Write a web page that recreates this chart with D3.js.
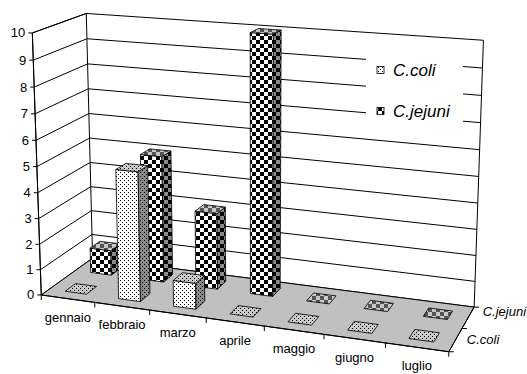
<!DOCTYPE html>
<html>
<head>
<meta charset="utf-8">
<script src="https://cdn.jsdelivr.net/npm/d3@7"></script>
<style>
  html, body { margin: 0; padding: 0; background: #fff; }
  svg { display: block; font-family: "Liberation Sans", Arial, sans-serif; }
</style>
</head>
<body>
<svg id="chart" width="527" height="374"></svg>
<script>
// ---- data ----
const months = ["gennaio", "febbraio", "marzo", "aprile", "maggio", "giugno", "luglio"];
const seriesNames = ["C.coli", "C.jejuni"];
const coliValues = [0, 5, 1, 0, 0, 0, 0];
const jejuniValues = [1, 5, 3, 10, 0, 0, 0];
const valueTicks = [0, 1, 2, 3, 4, 5, 6, 7, 8, 9, 10];

// ---- camera: box corners of the unit plot cube (x = categories, y = value, z = depth) on screen ----
const cameraAnchors = [
  { p: [0, 0, 0], u: 41.7, v: 294.0, w: 4 },
  { p: [0, 1, 0], u: 32.0, v: 33.0, w: 4 },
  { p: [0, 1, 1], u: 86.7, v: 12.7, w: 4 },
  { p: [1, 1, 1], u: 483.3, v: 40.7, w: 4 },
  { p: [1, 0, 1], u: 474.0, v: 306.0, w: 4 },
  { p: [1, 0, 0], u: 449.3, v: 352.7, w: 4 },
  { p: [0, 0, 1], u: 92.0, v: 261.0, w: 2 },
  { p: [1 / 7, 0, 0], u: 95.0, w: 1 },
  { p: [2 / 7, 0, 0], u: 150.0, w: 1 },
  { p: [3 / 7, 0, 0], u: 206.0, w: 1 },
  { p: [4 / 7, 0, 0], u: 262.7, w: 1 },
  { p: [5 / 7, 0, 0], u: 322.7, w: 1 },
  { p: [6 / 7, 0, 0], u: 385.0, w: 1 },
  { p: [0, 0.1, 0], v: 269, w: 1 },
  { p: [0, 0.2, 0], v: 244, w: 1 },
  { p: [0, 0.3, 0], v: 219, w: 1 },
  { p: [0, 0.4, 0], v: 192, w: 1 },
  { p: [0, 0.5, 0], v: 167, w: 1 },
  { p: [0, 0.6, 0], v: 140, w: 1 },
  { p: [0, 0.7, 0], v: 114, w: 1 },
  { p: [0, 0.8, 0], v: 88, w: 1 },
  { p: [0, 0.9, 0], v: 61, w: 1 },
  { p: [1, 0, 0.5], u: 463.3, v: 327.7, w: 1 }
];

function solveLinear(A, b) {
  const n = b.length;
  const M = A.map((row, i) => row.concat([b[i]]));
  for (let c = 0; c < n; c++) {
    let piv = c;
    for (let r = c + 1; r < n; r++) if (Math.abs(M[r][c]) > Math.abs(M[piv][c])) piv = r;
    [M[c], M[piv]] = [M[piv], M[c]];
    for (let r = 0; r < n; r++) {
      if (r === c) continue;
      const f = M[r][c] / M[c][c];
      for (let k = c; k <= n; k++) M[r][k] -= f * M[c][k];
    }
  }
  return M.map((row, i) => row[n] / row[i]);
}

// least-squares projective camera (DLT with last entry fixed to 1)
function fitCamera(anchors) {
  const S = 100;
  const rows = [], rhs = [], wts = [];
  anchors.forEach(a => {
    const [x, y, z] = a.p;
    if (a.u !== undefined) {
      const u = a.u / S;
      rows.push([x, y, z, 1, 0, 0, 0, 0, -u * x, -u * y, -u * z]); rhs.push(u); wts.push(a.w);
    }
    if (a.v !== undefined) {
      const v = a.v / S;
      rows.push([0, 0, 0, 0, x, y, z, 1, -v * x, -v * y, -v * z]); rhs.push(v); wts.push(a.w);
    }
  });
  const n = 11;
  const AtA = Array.from({ length: n }, () => new Array(n).fill(0));
  const Atb = new Array(n).fill(0);
  rows.forEach((r, i) => {
    const w = wts[i];
    for (let a = 0; a < n; a++) {
      Atb[a] += w * r[a] * rhs[i];
      for (let b = 0; b < n; b++) AtA[a][b] += w * r[a] * r[b];
    }
  });
  const p = solveLinear(AtA, Atb);
  const P = [
    [p[0] * S, p[1] * S, p[2] * S, p[3] * S],
    [p[4] * S, p[5] * S, p[6] * S, p[7] * S],
    [p[8], p[9], p[10], 1]
  ];
  const center = solveLinear(
    [[P[0][0], P[0][1], P[0][2]], [P[1][0], P[1][1], P[1][2]], [P[2][0], P[2][1], P[2][2]]],
    [-P[0][3], -P[1][3], -P[2][3]]
  );
  return { P, center };
}

const cam = fitCamera(cameraAnchors);
function project(x, y, z) {
  const P = cam.P;
  const w = P[2][0] * x + P[2][1] * y + P[2][2] * z + P[2][3];
  return [
    (P[0][0] * x + P[0][1] * y + P[0][2] * z + P[0][3]) / w,
    (P[1][0] * x + P[1][1] * y + P[1][2] * z + P[1][3]) / w
  ];
}

// ---- scales into the unit cube ----
const xCat = d3.scaleBand().domain(months).range([0, 1]);
const xBar = d3.scaleBand().domain(months).range([0, 1]).paddingInner(0.6).paddingOuter(0.3);
const yVal = d3.scaleLinear().domain([0, 10]).range([0, 1]);
const zCat = d3.scaleBand().domain(seriesNames).range([0, 1]);
const zBar = d3.scaleBand().domain(seriesNames).range([0, 1]).paddingInner(0.6).paddingOuter(0.3);
// depth labels sit a little wider apart than the series slots
const zLabel = d3.scaleBand().domain(seriesNames).range([-0.125, 1.125]);

const svg = d3.select("#chart");
const line = d3.line();
const polyPath = pts => line(pts.map(p => project(p[0], p[1], p[2]))) + "Z";

// ---- fill patterns ----
const defs = svg.append("defs");
function dotPattern(id, bg) {
  const p = defs.append("pattern").attr("id", id).attr("patternUnits", "userSpaceOnUse")
    .attr("width", 4).attr("height", 4);
  p.append("rect").attr("width", 4).attr("height", 4).attr("fill", bg);
  p.append("rect").attr("x", 0).attr("y", 0).attr("width", 1).attr("height", 1).attr("fill", "#000");
  p.append("rect").attr("x", 2).attr("y", 2).attr("width", 1).attr("height", 1).attr("fill", "#000");
}
function checkPattern(id, light, dark) {
  const p = defs.append("pattern").attr("id", id).attr("patternUnits", "userSpaceOnUse")
    .attr("width", 8).attr("height", 8);
  p.append("rect").attr("width", 8).attr("height", 8).attr("fill", light);
  p.append("rect").attr("x", 0).attr("y", 0).attr("width", 4).attr("height", 4).attr("fill", dark);
  p.append("rect").attr("x", 4).attr("y", 4).attr("width", 4).attr("height", 4).attr("fill", dark);
}
dotPattern("coli-front", "#ffffff");
dotPattern("coli-side", "#8a8a8a");
dotPattern("coli-top", "#c8c8c8");
checkPattern("jej-front", "#ffffff", "#000000");
checkPattern("jej-side", "#8a8a8a", "#000000");
checkPattern("jej-top", "#c8c8c8", "#555555");

const fills = {
  "C.coli": { front: "url(#coli-front)", side: "url(#coli-side)", top: "url(#coli-top)" },
  "C.jejuni": { front: "url(#jej-front)", side: "url(#jej-side)", top: "url(#jej-top)" }
};

// ---- walls and floor ----
const frame = svg.append("g");
frame.append("path").attr("d", polyPath([[0, 0, 0], [0, 0, 1], [0, 1, 1], [0, 1, 0]])).attr("fill", "#fff");
frame.append("path").attr("d", polyPath([[0, 0, 1], [1, 0, 1], [1, 1, 1], [0, 1, 1]])).attr("fill", "#fff");

const grid = svg.append("g").attr("stroke", "#000").attr("stroke-width", 1).attr("fill", "none");
valueTicks.forEach(t => {
  const yy = yVal(t);
  grid.append("path").attr("d", line([project(0, yy, 0), project(0, yy, 1), project(1, yy, 1)]));
});
svg.append("path").attr("d", polyPath([[0, 0, 0], [1, 0, 0], [1, 0, 1], [0, 0, 1]]))
  .attr("fill", "#c0c0c0").attr("stroke", "#000").attr("stroke-width", 1);

const edges = svg.append("g").attr("stroke", "#000").attr("stroke-width", 1).attr("fill", "none");
[
  [[0, 0, 1], [0, 1, 1]],
  [[1, 0, 1], [1, 1, 1]],
  [[0, 1, 0], [0, 1, 1]],
  [[0, 0, 0], [0, 1, 0]]
].forEach(e => edges.append("path").attr("d", line(e.map(p => project(...p)))));

// ---- bars ----
const bars = [];
seriesNames.forEach((s, si) => {
  const vals = si === 0 ? coliValues : jejuniValues;
  months.forEach((m, mi) => bars.push({ series: s, si, month: m, value: vals[mi] }));
});
const C = cam.center;
bars.sort((a, b) => {
  if (a.si !== b.si) return b.si - a.si;
  const ca = xBar(a.month) + xBar.bandwidth() / 2, cb = xBar(b.month) + xBar.bandwidth() / 2;
  return Math.abs(cb - C[0]) - Math.abs(ca - C[0]);
});

function area(pts) {
  let s = 0;
  for (let i = 0; i < pts.length; i++) {
    const a = pts[i], b = pts[(i + 1) % pts.length];
    s += a[0] * b[1] - b[0] * a[1];
  }
  return Math.abs(s / 2);
}

const barG = svg.append("g").attr("stroke", "#000").attr("stroke-width", 0.8).attr("stroke-linejoin", "round");
bars.forEach(d => {
  const x0 = xBar(d.month), x1 = x0 + xBar.bandwidth();
  const z0 = zBar(d.series), z1 = z0 + zBar.bandwidth();
  const y0 = 0, y1 = yVal(d.value);
  const faces = [
    { kind: "front", n: [0, 0, -1], pts: [[x0, y0, z0], [x1, y0, z0], [x1, y1, z0], [x0, y1, z0]] },
    { kind: "side", n: [0, 0, 1], pts: [[x0, y0, z1], [x1, y0, z1], [x1, y1, z1], [x0, y1, z1]] },
    { kind: "side", n: [-1, 0, 0], pts: [[x0, y0, z0], [x0, y0, z1], [x0, y1, z1], [x0, y1, z0]] },
    { kind: "side", n: [1, 0, 0], pts: [[x1, y0, z0], [x1, y0, z1], [x1, y1, z1], [x1, y1, z0]] },
    { kind: "top", n: [0, 1, 0], pts: [[x0, y1, z0], [x1, y1, z0], [x1, y1, z1], [x0, y1, z1]] },
    { kind: "top", n: [0, -1, 0], pts: [[x0, y0, z0], [x1, y0, z0], [x1, y0, z1], [x0, y0, z1]] }
  ];
  faces.forEach(f => {
    const q = f.pts[0];
    const dot = (C[0] - q[0]) * f.n[0] + (C[1] - q[1]) * f.n[1] + (C[2] - q[2]) * f.n[2];
    if (dot <= 0) return;
    const scr = f.pts.map(p => project(...p));
    if (area(scr) < 0.5) return;
    barG.append("path").attr("d", line(scr) + "Z").attr("fill", fills[d.series][f.kind]);
  });
});

// ---- axes ----
const axisG = svg.append("g").attr("stroke", "#000").attr("stroke-width", 1).attr("fill", "none");
axisG.append("path").attr("d", line([project(0, 0, 0), project(0, 1, 0)]));
axisG.append("path").attr("d", line([project(0, 0, 0), project(1, 0, 0), project(1, 0, 1)]));

const textG = svg.append("g").attr("fill", "#000").attr("font-size", 13);
valueTicks.forEach(t => {
  const [u, v] = project(0, yVal(t), 0);
  axisG.append("path").attr("d", line([[u - 4, v], [u, v]]));
  textG.append("text").attr("x", u - 7).attr("y", v).attr("text-anchor", "end")
    .attr("dominant-baseline", "central").text(t);
});

const catBounds = months.map(m => xCat(m)).concat([1]);
catBounds.forEach(b => {
  const [u, v] = project(b, 0, 0);
  axisG.append("path").attr("d", line([[u, v], [u, v + 5]]));
});
months.forEach(m => {
  const [u, v] = project(xCat(m) + xCat.bandwidth() / 2, 0, 0);
  textG.append("text").attr("x", u).attr("y", v + 23).attr("text-anchor", "middle").text(m);
});

const depthBounds = seriesNames.map(s => zCat(s)).concat([1]);
depthBounds.forEach(b => {
  const [u, v] = project(1, 0, b);
  axisG.append("path").attr("d", line([[u, v], [u + 5, v]]));
});
seriesNames.forEach(s => {
  const [u, v] = project(1, 0, zLabel(s) + zLabel.bandwidth() / 2);
  textG.append("text").attr("x", u + 13).attr("y", v - 3).attr("dominant-baseline", "central")
    .attr("font-style", "italic").text(s);
});

// ---- legend ----
const legend = svg.append("g").attr("transform", "translate(366,55)");
legend.append("rect").attr("width", 97).attr("height", 71).attr("fill", "#fff");
seriesNames.forEach((s, i) => {
  const cy = 15 + i * 41;
  legend.append("rect").attr("x", 11).attr("y", cy - 3.5).attr("width", 7).attr("height", 7)
    .attr("fill", fills[s].front).attr("stroke", "#000").attr("stroke-width", 0.8);
  legend.append("text").attr("x", 27).attr("y", cy).attr("dominant-baseline", "central")
    .attr("font-size", 17).attr("font-style", "italic").text(s);
});
</script>
</body>
</html>
